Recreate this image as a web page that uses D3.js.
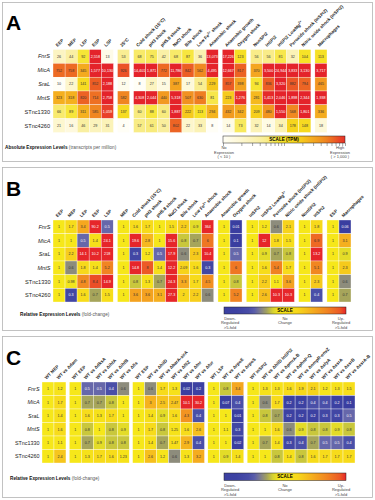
<!DOCTYPE html>
<html>
<head>
<meta charset="utf-8">
<script src="https://cdn.jsdelivr.net/npm/d3@7"></script>
<style>
  body { margin: 0; background: #fff; }
  svg { display: block; font-family: "Liberation Sans", Arial, sans-serif; }
</style>
</head>
<body>
<div id="vizcontainer"></div>
<script>
const width = 375,
  height = 500;

const rowNames = ['FnrS', 'MicA', 'SraL', 'MntS', 'STnc1330', 'STnc4260'];
const italicNames = ['FnrS', 'MicA', 'SraL', 'MntS'];

// panel A : absolute expression (TPM)
const colsA = ['EEP', 'MEP', 'LEP', 'ESP', 'LSP', '25°C',
  'Cold shock (15°C)', 'pH3 shock', 'pH5.8 shock', 'NaCl shock', 'Bile shock', 'Low Fe^{2+} shock', 'Anaerobic shock',
  'Anaerobic growth', 'Oxygen shock',
  'NonSPI2', 'InSPI2', 'InSPI2 LowMg^{2+}', 'Peroxide shock (InSPI2)', 'Nitric oxide shock (InSPI2)',
  'Macrophages'];
const groupsA = [5, 1, 7, 2, 5, 1];
const valsA = [
  [26, 44, 92, 2558, 13, 53, 68, 75, 42, 68, 87, 36, 13073, 17226, 123, 56, 56, 81, 32, 104, 113],
  [752, 758, 345, 1577, 10130, 926, 14401, 1871, 772, 11786, 842, 562, 4495, 12667, 817, 370, 3500, 24944, 3833, 3130, 3717],
  [10, 22, 141, 852, 2188, 12, 8, 27, 15, 387, 17, 54, 229, 857, 398, 94, 836, 3320, 882, 794, 465],
  [323, 318, 820, 714, 2758, 582, 4308, 2044, 440, 5318, 507, 630, 81, 223, 1276, 281, 1413, 2046, 1898, 2344, 1938],
  [66, 89, 311, 585, 1059, 137, 60, 88, 60, 1887, 222, 113, 294, 432, 342, 209, 480, 1550, 568, 1801, 336],
  [21, 16, 46, 29, 31, 4, 57, 61, 50, 802, 22, 33, 8, 14, 73, 32, 14, 34, 178, 148, 18]
];

// panel B : fold change between conditions
const colsB = ['EEP', 'MEP', 'LEP', 'ESP', 'LSP',
  'MEP', 'Cold shock (15°C)', 'pH3 shock', 'pH5.8 shock', 'NaCl shock', 'Bile shock', 'Low Fe^{2+} shock', 'Anaerobic shock',
  'Anaerobic growth', 'Oxygen shock',
  'InSPI2', 'InSPI2 LowMg^{2+}', 'Peroxide shock (InSPI2)', 'Nitric oxide shock (InSPI2)',
  'NonSPI2', 'InSPI2',
  'ESP', 'Macrophages'];
const groupsB = [5, 8, 2, 4, 2, 2];
const valsB = [
  [1, 1.7, 3.4, 90.2, 0.5, 1, 1.6, 1.7, 1, 1.5, 2.2, 0.9, 364, 1, 0.01, 1, 1.2, 0.6, 2.1, 1, 1.8, 1, 0.06],
  [1, 1, 0.5, 1.4, 24.1, 1, 19.6, 2.8, 1, 15.6, 0.8, 0.7, 6, 1, 0.1, 1, 12.0, 1.8, 1.5, 1, 6.9, 1, 3.1],
  [1, 2.2, 14.1, 10.2, 218, 1, 0.3, 1.2, 0.5, 17.9, 0.6, 2.3, 10.4, 1, 0.5, 1, 0.9, 0.7, 0.8, 1, 13.2, 1, 0.9],
  [1, 0.6, 1.8, 1.4, 5.2, 1, 14.8, 8.0, 1.4, 12.2, 2.09, 1.6, 0.3, 1, 6.0, 1, 1.6, 5.4, 1.7, 1, 5.1, 1, 2.3],
  [1, 0.98, 4.8, 8.4, 14.9, 1, 0.8, 1.3, 0.7, 24.3, 3.3, 1.7, 4.5, 1, 0.8, 1, 2.2, 1.1, 3.6, 1, 2.3, 1, 0.6],
  [1, 0.3, 1.6, 0.7, 1.5, 1, 3.6, 3.6, 3.1, 27.3, 2, 2.2, 0.6, 1, 5.2, 1, 2.6, 10.3, 10.3, 1, 0.4, 1, 0.7]
];

// panel C : fold change in regulator mutants
const colsC = ['WT MEP', 'WT vs Δdam',
  'WT EEP', 'WT vs ΔdksA', 'WT vs ΔihfA', 'WT vs ΔihfB', 'WT vs Δfis',
  'WT ESP', 'WT vs ΔhilD', 'WT vs ΔbarA-sirA', 'WT vs ΔfliZ', 'WT vs Δfnr', 'WT vs Δfur',
  'WT LSP', 'WT vs ΔrpoE', 'WT vs ΔrpoS',
  'WT InSPI2', 'WT vs ΔhilD InSPI2', 'WT vs ΔpmrA-B', 'WT vs ΔphoP-Q', 'WT vs ΔompR-envZ', 'WT vs ΔslyA', 'WT vs ΔssrA', 'WT vs ΔssrB', 'WT vs ΔssrA-B'];
const groupsC = [2, 5, 6, 3, 9];
const valsC = [
  [1, 1.2, 1, 0.5, 0.5, 0.4, 0.6, 1, 0.6, 1.7, 1.3, 0.02, 0.2, 1, 0.8, 3.4, 1, 1.3, 1.3, 1.6, 1.9, 2.1, 1.2, 1.3, 1.5],
  [1, 1.7, 1, 0.7, 0.7, 0.8, 1, 1, 3, 2.5, 2.47, 10.1, 30.2, 1, 0.07, 0.4, 1, 0.6, 1.7, 0.2, 0.2, 0.4, 0.4, 0.2, 0.1],
  [1, 1.4, 1, 1.6, 1.3, 1.7, 1, 1, 1.4, 0.9, 1.6, 4.3, 0.4, 1, 1, 0.01, 1, 0.8, 0.7, 0.2, 0.2, 0.2, 0.3, 0.3, 0.5],
  [1, 1.6, 1, 0.8, 1, 0.8, 0.9, 1, 1.7, 0.8, 1.25, 1.6, 2.6, 1, 1.1, 0.3, 1, 1, 1.6, 0.6, 0.9, 0.8, 0.8, 0.9, 0.8],
  [1, 1.1, 1, 0.7, 0.9, 0.8, 0.8, 1, 1.4, 0.7, 1.47, 2.9, 0.4, 1, 1, 0.02, 1, 0.7, 1.4, 0.3, 0.4, 0.7, 0.5, 0.5, 0.4],
  [1, 2.4, 1, 1.3, 1.7, 1.6, 1.23, 1, 2.6, 1.2, 0.6, 1.3, 3.2, 1, 0.9, 1.4, 1, 1, 0.8, 1.4, 0.8, 1.6, 1.7, 1.7, 1.7]
];


const viz = d3.select('#vizcontainer')
  .append('svg')
  .attr('width', width)
  .attr('height', height);

// colour scales
const absScale = d3.scaleLinear()
  .domain([1, 1.3, 1.7, 2, 2.3, 2.5, 2.75, 2.92, 3.05, 3.2])
  .range(['#fffef6', '#fdf7d2', '#f9ee9c', '#f6e428', '#f6d21c', '#f5b01f', '#f08a21', '#ec6024', '#e8382a', '#e4232a'])
  .clamp(true);
const absColor = v => absScale(Math.log10(Math.max(v, 1)));

const foldScale = d3.scaleLinear()
  .domain([-3.3, -2, -1.32, -1, -0.74, -0.51, -0.32, -0.15, 0, 1, 1.7, 2.5, 3, 3.3])
  .range(['#3a3ea0', '#3d42a2', '#4a4fa8', '#6667aa', '#8d8c7c', '#a6a55a', '#c9c73c', '#e3dc28',
    '#f6e71a', '#f7d71b', '#f5ab1f', '#f07d22', '#ec5a26', '#e6262a'])
  .clamp(true);
const foldColor = v => foldScale(Math.log2(v));


// panel frames
[[2.5, 2.5, 370, 159], [2.5, 167.5, 370, 163], [2.5, 336.5, 370, 161]].forEach(r => {
  viz.append('rect')
    .attr('x', r[0]).attr('y', r[1]).attr('width', r[2]).attr('height', r[3])
    .attr('fill', 'none').attr('stroke', '#b4b4b4').attr('stroke-width', 0.8);
});

[['A', 30], ['B', 196], ['C', 365]].forEach(p => {
  viz.append('text')
    .attr('x', 6).attr('y', p[1])
    .attr('font-size', 21).attr('font-weight', 'bold')
    .text(p[0]);
});


function addLabel(sel, label) {
  const parts = label.split(/\^\{([^}]*)\}/);
  parts.forEach((p, i) => {
    if (!p) return;
    const t = sel.append('tspan').text(p);
    if (i % 2 === 1) t.attr('baseline-shift', 'super').attr('font-size', '70%');
  });
}

function drawHeatmap(o) {
  const gIdx = [];
  o.groups.forEach((n, g) => { for (let i = 0; i < n; i++) gIdx.push(g); });

  const x = d3.scaleLinear()
    .domain([0, o.cols.length + (o.groups.length - 1) * o.gap])
    .range([o.x0, o.x1]);
  const y = d3.scaleBand()
    .domain(rowNames)
    .range([o.top, o.bottom]);
  const cw = x(1) - x(0);
  const colX = i => x(i + gIdx[i] * o.gap);

  const cells = [];
  o.vals.forEach((row, r) => row.forEach((v, c) => cells.push({ r: rowNames[r], c: c, v: v })));

  const g = viz.append('g');

  g.selectAll('rect')
    .data(cells)
    .join('rect')
    .attr('x', d => colX(d.c))
    .attr('y', d => y(d.r))
    .attr('width', cw)
    .attr('height', y.bandwidth())
    .attr('fill', d => o.color(d.v))
    .attr('stroke', '#fff')
    .attr('stroke-width', 0.35);

  g.selectAll('text.val')
    .data(cells)
    .join('text')
    .attr('class', 'val')
    .attr('x', d => colX(d.c) + cw / 2)
    .attr('y', d => y(d.r) + y.bandwidth() / 2 + 1.3)
    .attr('text-anchor', 'middle')
    .attr('font-size', 3.7)
    .attr('fill', d => d3.lab(o.color(d.v)).l < 56 ? '#fff' : '#333')
    .text(d => o.fmt(d.v));

  g.selectAll('text.head')
    .data(o.cols)
    .join('text')
    .attr('class', 'head')
    .attr('transform', (d, i) => `translate(${colX(i) + cw / 2 - 1.5},${o.top - 2.5}) rotate(-45)`)
    .attr('font-size', 4.5)
    .attr('font-weight', 'bold')
    .attr('fill', '#222')
    .each(function (d) { addLabel(d3.select(this), d); });

  g.selectAll('text.row')
    .data(rowNames)
    .join('text')
    .attr('class', 'row')
    .attr('x', o.labelX)
    .attr('y', d => y(d) + y.bandwidth() / 2 + 2)
    .attr('text-anchor', 'end')
    .attr('font-size', o.labelSize)
    .attr('font-style', d => italicNames.includes(d) ? 'italic' : 'normal')
    .attr('fill', '#222')
    .text(d => d);
}

drawHeatmap({
  cols: colsA, groups: groupsA, vals: valsA,
  x0: 53, x1: 327, gap: 0.33, top: 49.5, bottom: 132.5,
  color: absColor, fmt: d3.format(','), labelX: 50, labelSize: 5.6
});
drawHeatmap({
  cols: colsB, groups: groupsB, vals: valsB,
  x0: 53, x1: 351, gap: 0.35, top: 220, bottom: 302,
  color: foldColor, fmt: v => String(v), labelX: 50.5, labelSize: 5.6
});
drawHeatmap({
  cols: colsC, groups: groupsC, vals: valsC,
  x0: 42, x1: 355, gap: 0.28, top: 382, bottom: 463,
  color: foldColor, fmt: v => String(v), labelX: 39.5, labelSize: 5.4
});


// legends
function drawLegend(o) {
  const grad = viz.append('defs').append('linearGradient')
    .attr('id', o.id).attr('x1', '0%').attr('x2', '100%');
  d3.range(0, 1.0001, 0.05).forEach(t => {
    grad.append('stop')
      .attr('offset', (t * 100) + '%')
      .attr('stop-color', o.scale(o.domain[0] + t * (o.domain[1] - o.domain[0])));
  });
  viz.append('rect')
    .attr('x', o.x0).attr('y', o.y0).attr('width', o.x1 - o.x0).attr('height', o.h)
    .attr('fill', `url(#${o.id})`)
    .attr('stroke', '#222').attr('stroke-width', 0.5);
  viz.append('text')
    .attr('x', (o.x0 + o.x1) / 2).attr('y', o.y0 + o.h / 2 + 1.6)
    .attr('text-anchor', 'middle').attr('font-size', 4.6).attr('font-weight', 'bold')
    .text(o.title);
  o.labels.forEach(l => {
    l.lines.forEach((s, k) => {
      viz.append('text')
        .attr('x', l.x).attr('y', o.ly + k * 4.5)
        .attr('text-anchor', 'middle').attr('font-size', 4)
        .attr('fill', '#444')
        .text(s);
    });
  });
}

drawLegend({
  id: 'gradA', x0: 223, x1: 345, y0: 136, h: 7, scale: absScale, domain: [1, 3.1],
  title: 'SCALE (TPM)', ly: 149,
  labels: [{ x: 224, lines: ['No', 'Expression', '( < 10 )'] },
    { x: 340, lines: ['High', 'Expression', '( > 1,000 )'] }]
});
const tickScale = d3.scaleLog().domain([10, 1000]).range([223, 345]);
viz.append('g')
  .attr('transform', 'translate(0,143)')
  .call(d3.axisBottom(tickScale).ticks(10).tickSize(3).tickFormat(''))
  .call(g => g.select('.domain').remove())
  .call(g => g.selectAll('line').attr('stroke', '#222').attr('stroke-width', 0.4));

const divLabels = (x0, x1) => [
  { x: x0 + 6, lines: ['Down-', 'Regulated', '>5-fold'] },
  { x: (x0 + x1) / 2, lines: ['No', 'Change'] },
  { x: x1 - 5, lines: ['Up-', 'Regulated', '>5-fold'] }
];
drawLegend({
  id: 'gradB', x0: 224, x1: 346, y0: 307, h: 7, scale: foldScale, domain: [-2.6, 3.3],
  title: 'SCALE', ly: 319.5, labels: divLabels(224, 346)
});
drawLegend({
  id: 'gradC', x0: 224, x1: 346, y0: 473, h: 7.5, scale: foldScale, domain: [-2.6, 3.3],
  title: 'SCALE', ly: 486.5, labels: divLabels(224, 346)
});

// footnotes
[[5, 149, 'Absolute Expression Levels', ' (transcripts per million)'],
 [20, 316, 'Relative Expression Levels', ' (fold-change)'],
 [10, 480, 'Relative Expression Levels', ' (fold-change)']].forEach(f => {
  const t = viz.append('text')
    .attr('x', f[0]).attr('y', f[1])
    .attr('font-size', 4.7);
  t.append('tspan').attr('font-weight', 'bold').attr('fill', '#111').text(f[2]);
  t.append('tspan').attr('fill', '#555').text(f[3]);
});
</script>
</body>
</html>
